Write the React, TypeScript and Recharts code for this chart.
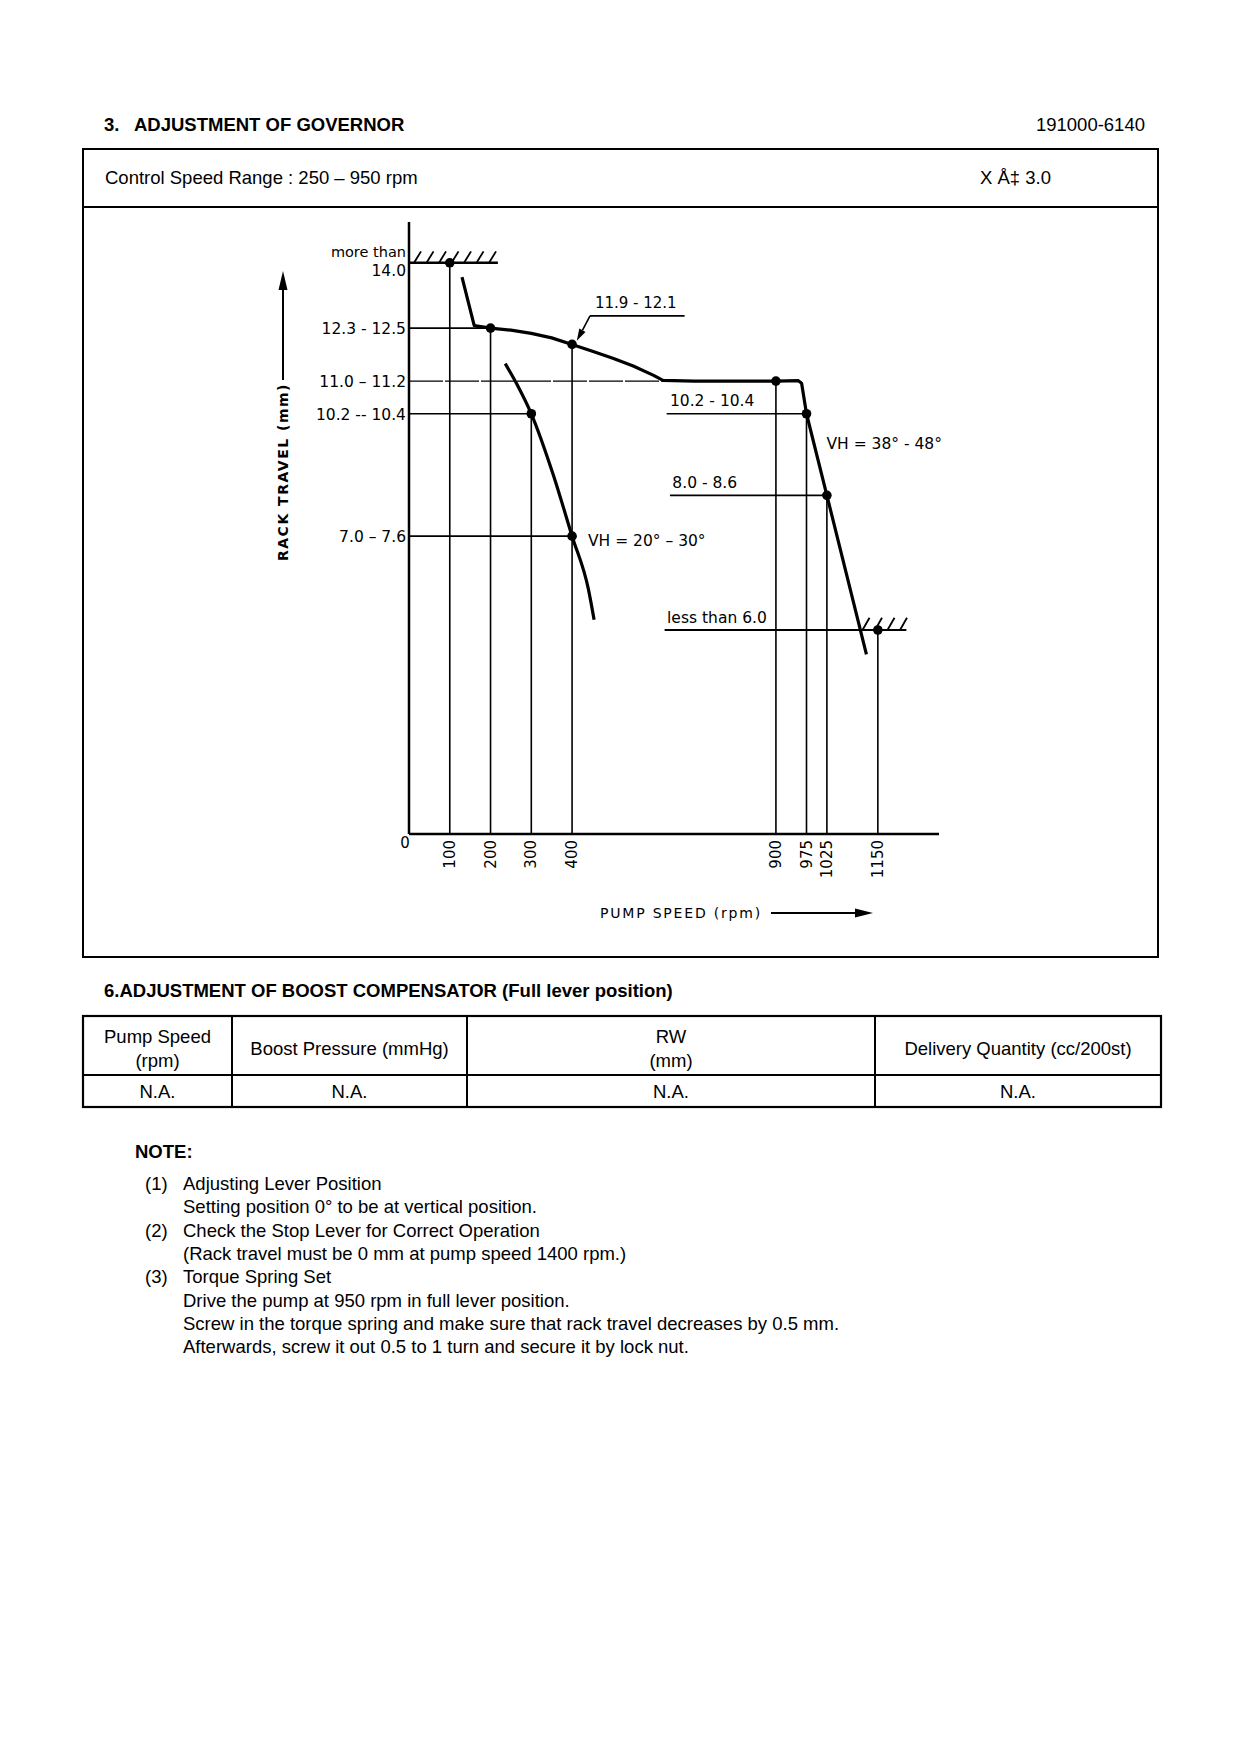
import React from "react";
import {
  ComposedChart,
  Line,
  Scatter,
  XAxis,
  YAxis,
  ReferenceLine,
  ReferenceArea,
  ReferenceDot,
} from "recharts";

// full lever governor curve: pump speed (rpm) -> rack travel (mm)
const governorSpeed = [130, 160, 200, 250, 300, 350, 400, 450, 500, 550, 600, 623, 700, 800, 900, 955, 963, 975, 1025, 1122];
const governorRack = [13.65, 12.46, 12.4, 12.35, 12.27, 12.16, 12.0, 11.83, 11.66, 11.47, 11.24, 11.12, 11.1, 11.1, 11.1, 11.11, 11.05, 10.3, 8.3, 4.4];

// VH = 20° - 30° curve
const idleSpeed = [236, 266, 300, 354, 400, 440, 454];
const idleRack = [11.53, 11.0, 10.3, 8.8, 7.3, 6.0, 5.25];

// measuring points
const pointSpeed = [100, 200, 400, 300, 400, 900, 975, 1025, 1150];
const pointRack = [14.0, 12.4, 12.0, 10.3, 7.3, 11.1, 10.3, 8.3, 5.0];

// drop lines from each point to the speed axis
const dropSpeed = [100, 200, 300, 400, 900, 975, 1025, 1150];
const dropRack = [14.0, 12.4, 10.3, 12.0, 11.1, 10.3, 8.3, 5.0];

// horizontal leader lines
const levelRack = [12.4, 10.3, 7.3, 10.3, 8.3];
const levelFrom = [0, 0, 0, 632, 640];
const levelTo = [200, 300, 400, 975, 1025];

const xTicks = [0, 100, 200, 300, 400, 900, 975, 1025, 1150];
const yTicks = [14.0, 12.4, 11.1, 10.3, 7.3];
const yTickLabels = ["14.0", "12.3 - 12.5", "11.0 – 11.2", "10.2 -- 10.4", "7.0 – 7.6"];

// table + notes
const tableHeads = [["Pump Speed", "(rpm)"], ["Boost Pressure (mmHg)"], ["RW", "(mm)"], ["Delivery Quantity (cc/200st)"]];
const tableValues = ["N.A.", "N.A.", "N.A.", "N.A."];
const noteNums = ["(1)", "", "(2)", "", "(3)", "", "", ""];
const noteLines = [
  "Adjusting Lever Position",
  "Setting position 0° to be at vertical position.",
  "Check the Stop Lever for Correct Operation",
  "(Rack travel must be 0 mm at pump speed 1400 rpm.)",
  "Torque Spring Set",
  "Drive the pump at 950 rpm in full lever position.",
  "Screw in the torque spring and make sure that rack travel decreases by 0.5 mm.",
  "Afterwards, screw it out 0.5 to 1 turn and secure it by lock nut.",
];

const governorData = governorSpeed.map((x, i) => ({ x, y: governorRack[i] }));
const idleData = idleSpeed.map((x, i) => ({ x, y: idleRack[i] }));
const pointData = pointSpeed.map((x, i) => ({ x, y: pointRack[i] }));

const CHART_FONT = "'DejaVu Sans', sans-serif";
const PAGE_FONT = "'Liberation Sans', Arial, sans-serif";
const colEdges = [83, 232, 467, 875, 1161];

function XTick(p: any) {
  const { x, y, payload } = p;
  if (payload.value === 0) {
    return (
      <text x={x - 4} y={y + 14} textAnchor="middle" fontSize={15} fontFamily={CHART_FONT} fill="#000">
        0
      </text>
    );
  }
  return (
    <text
      transform={`translate(${x},${y}) rotate(-90)`}
      x={-6}
      y={5}
      textAnchor="end"
      fontSize={15}
      fontFamily={CHART_FONT}
      fill="#000"
    >
      {payload.value}
    </text>
  );
}

function YTick(p: any) {
  const { x, y, payload } = p;
  const label = yTickLabels[yTicks.indexOf(payload.value)];
  if (payload.value === 14) {
    return (
      <g fontFamily={CHART_FONT} fill="#000" textAnchor="end">
        <text x={x} y={y - 6} fontSize={14.5}>more than</text>
        <text x={x} y={y + 13} fontSize={15.5}>{label}</text>
      </g>
    );
  }
  return (
    <text x={x} y={y} dy={6} textAnchor="end" fontSize={15.5} fontFamily={CHART_FONT} fill="#000">
      {label}
    </text>
  );
}

// short "/" strokes above a stop line
function Hatch(p: any) {
  const { x, y, width, height } = p;
  const marks = [];
  for (let sx = x + 3; sx + 7 <= x + width + 1; sx += 12.5) {
    marks.push(<line key={sx} x1={sx} y1={y + height} x2={sx + 7} y2={y} stroke="#000" strokeWidth={1.8} />);
  }
  return <g>{marks}</g>;
}

function ArrowLeader(p: any) {
  const { x1, y1, x2, y2 } = p;
  const dx = x2 - x1;
  const dy = y2 - y1;
  const len = Math.hypot(dx, dy) || 1;
  const ux = dx / len;
  const uy = dy / len;
  const tx = x2 - ux * 4;
  const ty = y2 - uy * 4;
  const bx = tx - ux * 12;
  const by = ty - uy * 12;
  return (
    <g>
      <line x1={x1} y1={y1} x2={bx} y2={by} stroke="#000" strokeWidth={1.6} />
      <polygon points={`${tx},${ty} ${bx - uy * 3.5},${by + ux * 3.5} ${bx + uy * 3.5},${by - ux * 3.5}`} fill="#000" />
    </g>
  );
}

function textAt(text: string, dy: number, size = 15.5) {
  return (p: any) => (
    <text x={p.cx} y={p.cy + dy} fontSize={size} fontFamily={CHART_FONT} fill="#000">
      {text}
    </text>
  );
}

function GovernorChart() {
  return (
    <ComposedChart width={1075} height={750} margin={{ top: 15, right: 219, bottom: 63, left: 206 }}>
      <XAxis
        type="number"
        dataKey="x"
        domain={[0, 1300]}
        ticks={xTicks}
        interval={0}
        tickLine={false}
        tickSize={0}
        tickMargin={0}
        axisLine={{ stroke: "#000", strokeWidth: 2.5 }}
        height={60}
        tick={XTick}
        allowDataOverflow
      />
      <YAxis
        type="number"
        dataKey="y"
        domain={[0, 15]}
        ticks={yTicks}
        interval={0}
        width={120}
        tickLine={false}
        tickSize={0}
        tickMargin={3}
        axisLine={{ stroke: "#000", strokeWidth: 2.5 }}
        tick={YTick}
        allowDataOverflow
      />

      {/* upper stop */}
      <ReferenceArea x1={5} x2={218} y1={14} y2={14.28} shape={Hatch} />
      <ReferenceLine segment={[{ x: 0, y: 14 }, { x: 218, y: 14 }]} stroke="#000" strokeWidth={2.5} />
      {/* lower stop */}
      <ReferenceArea x1={1105} x2={1220} y1={5} y2={5.3} shape={Hatch} />
      <ReferenceLine segment={[{ x: 627, y: 5 }, { x: 1220, y: 5 }]} stroke="#000" strokeWidth={2} />

      <ReferenceLine segment={[{ x: 0, y: 11.1 }, { x: 623, y: 11.1 }]} stroke="#000" strokeWidth={1.2} strokeDasharray="34 2" />
      {levelRack.map((r, i) => (
        <ReferenceLine key={`h${i}`} segment={[{ x: levelFrom[i], y: r }, { x: levelTo[i], y: r }]} stroke="#000" strokeWidth={1.6} />
      ))}
      {dropSpeed.map((s, i) => (
        <ReferenceLine key={`v${i}`} segment={[{ x: s, y: dropRack[i] }, { x: s, y: 0 }]} stroke="#000" strokeWidth={1.6} />
      ))}

      {/* 11.9 - 12.1 callout */}
      <ReferenceLine segment={[{ x: 444, y: 12.7 }, { x: 676, y: 12.7 }]} stroke="#000" strokeWidth={1.6} />
      <ReferenceLine segment={[{ x: 444, y: 12.7 }, { x: 407, y: 12.0 }]} shape={ArrowLeader} />

      <Line data={governorData} dataKey="y" type="linear" stroke="#000" strokeWidth={3.2} dot={false} isAnimationActive={false} strokeLinejoin="round" />
      <Line data={idleData} dataKey="y" type="monotone" stroke="#000" strokeWidth={3.2} dot={false} isAnimationActive={false} />
      <Scatter
        data={pointData}
        dataKey="y"
        isAnimationActive={false}
        shape={(p: any) => <circle cx={p.cx} cy={p.cy} r={4.8} fill="#000" />}
      />

      <ReferenceDot x={456} y={12.7} r={0} shape={textAt("11.9 - 12.1", -8, 15)} />
      <ReferenceDot x={640} y={10.3} r={0} shape={textAt("10.2 - 10.4", -8)} />
      <ReferenceDot x={646} y={8.3} r={0} shape={textAt("8.0 - 8.6", -7)} />
      <ReferenceDot x={633} y={5} r={0} shape={textAt("less than 6.0", -7)} />
      <ReferenceDot x={1024} y={9.59} r={0} shape={textAt("VH = 38° - 48°", 6)} />
      <ReferenceDot x={439} y={7.2} r={0} shape={textAt("VH = 20° – 30°", 6)} />
    </ComposedChart>
  );
}

export default function App() {
  const tableTop = 1016;
  const tableMid = 1075;
  const tableBottom = 1107;
  return (
    <div style={{ position: "absolute", left: 0, top: 0, width: 1240, height: 1754, background: "#fff" }}>
      <svg width={1240} height={1754} style={{ position: "absolute", left: 0, top: 0 }} fontFamily={PAGE_FONT} fontSize={18.5} fill="#000">
        <text x={104} y={131} fontWeight="bold">3.</text>
        <text x={134} y={131} fontWeight="bold">ADJUSTMENT OF GOVERNOR</text>
        <text x={1145} y={131} textAnchor="end">191000-6140</text>

        <rect x={83} y={149} width={1075} height={808} fill="none" stroke="#000" strokeWidth={2} />
        <line x1={83} y1={207} x2={1158} y2={207} stroke="#000" strokeWidth={2} />
        <text x={105} y={184}>Control Speed Range : 250 – 950 rpm</text>
        <text x={980} y={184}>X Å‡ 3.0</text>

        {/* axis titles */}
        <text
          transform="translate(288,472) rotate(-90)"
          textAnchor="middle"
          fontFamily={CHART_FONT}
          fontSize={14}
          fontWeight="bold"
          letterSpacing={1.5}
        >
          RACK TRAVEL (mm)
        </text>
        <text x={600} y={918} fontFamily={CHART_FONT} fontSize={14} letterSpacing={1.8}>PUMP SPEED (rpm)</text>
        <line x1={283} y1={380} x2={283} y2={286} stroke="#000" strokeWidth={2} />
        <polygon points="283,271 278.5,290 287.5,290" fill="#000" />
        <line x1={771} y1={913} x2={858} y2={913} stroke="#000" strokeWidth={2} />
        <polygon points="873,913 855,908.5 855,917.5" fill="#000" />

        <text x={104} y={997} fontWeight="bold">6.ADJUSTMENT OF BOOST COMPENSATOR (Full lever position)</text>
        <rect x={83} y={tableTop} width={1078} height={tableBottom - tableTop} fill="none" stroke="#000" strokeWidth={2.2} />
        <line x1={83} y1={tableMid} x2={1161} y2={tableMid} stroke="#000" strokeWidth={2.2} />
        {colEdges.slice(1, -1).map((cx) => (
          <line key={cx} x1={cx} y1={tableTop} x2={cx} y2={tableBottom} stroke="#000" strokeWidth={2} />
        ))}
        {tableHeads.map((head, i) => {
          const cx = (colEdges[i] + colEdges[i + 1]) / 2;
          return head.length === 2 ? (
            <g key={i} textAnchor="middle">
              <text x={cx} y={1043}>{head[0]}</text>
              <text x={cx} y={1067}>{head[1]}</text>
            </g>
          ) : (
            <text key={i} x={cx} y={1055} textAnchor="middle">{head[0]}</text>
          );
        })}
        {tableValues.map((v, i) => (
          <text key={i} x={(colEdges[i] + colEdges[i + 1]) / 2} y={1098} textAnchor="middle">{v}</text>
        ))}

        <text x={135} y={1158} fontWeight="bold">NOTE:</text>
        {noteLines.map((line, i) => (
          <g key={i}>
            {noteNums[i] && <text x={145} y={1190 + i * 23.3}>{noteNums[i]}</text>}
            <text x={183} y={1190 + i * 23.3}>{line}</text>
          </g>
        ))}
      </svg>

      <div style={{ position: "absolute", left: 83, top: 207, width: 1075, height: 750 }}>
        <GovernorChart />
      </div>
    </div>
  );
}
